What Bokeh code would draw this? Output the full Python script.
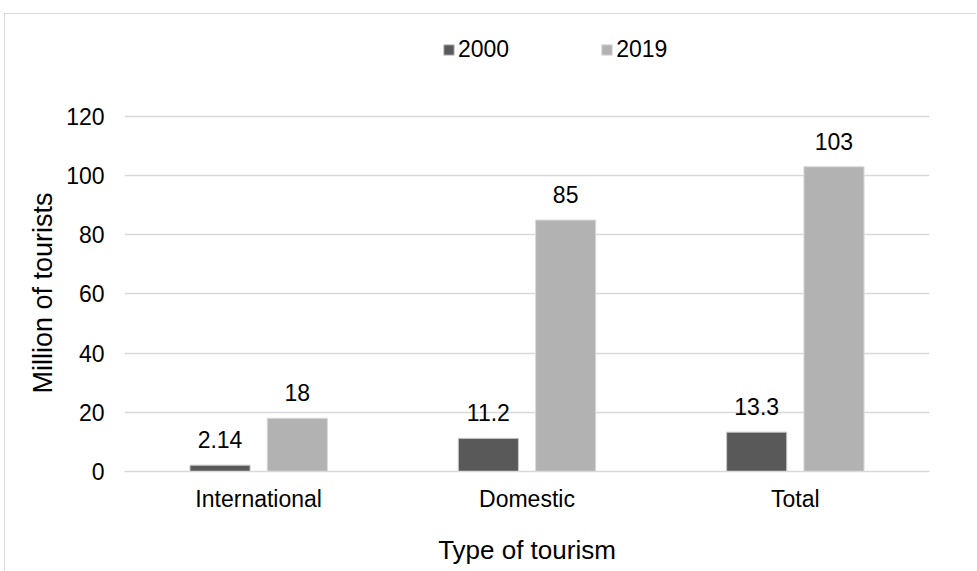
from bokeh.plotting import figure
from bokeh.models import (ColumnDataSource, FactorRange, Range1d, LabelSet, Legend,
                          LegendItem, FixedTicker, Title)
from bokeh.core.properties import value
from bokeh.transform import dodge
from bokeh.embed import file_html
from bokeh.resources import INLINE

categories = ["International", "Domestic", "Total"]
values_2000 = [2.14, 11.2, 13.3]
values_2019 = [18, 85, 103]
labels_2000 = ["2.14", "11.2", "13.3"]
labels_2019 = ["18", "85", "103"]
series_names = ["2000", "2019"]
y_ticks = [0, 20, 40, 60, 80, 100, 120]

FONT = "Liberation Sans"
DARK = "#595959"
LIGHT = "#b2b2b2"
GRID = "#d9d9d9"

# the frame is extended upwards (beyond the 0-120 axis) to leave room for the legend
Y_AXIS_MAX = 120
Y_VIEW_MAX = 152.45

src = ColumnDataSource(dict(cat=categories, v2000=values_2000, v2019=values_2019,
                            l2000=labels_2000, l2019=labels_2019))

p = figure(x_range=FactorRange(*categories, range_padding=0), y_range=Range1d(0, Y_VIEW_MAX),
           width=972, height=557, output_backend="svg", toolbar_location=None,
           min_border_left=119, min_border_right=48, min_border_top=6, min_border_bottom=100,
           margin=(13, 0, 0, 4))
p.styles = {"border-top": "1px solid #d9d9d9", "border-left": "1px solid #d9d9d9"}
p.outline_line_color = None
p.background_fill_color = "white"
p.border_fill_color = "white"

off = 0.144
w = 0.224
r1 = p.vbar(x=dodge("cat", -off, range=p.x_range), top="v2000", width=w, source=src,
            fill_color=DARK, line_color="#c8c8c8", line_width=1)
r2 = p.vbar(x=dodge("cat", off, range=p.x_range), top="v2019", width=w, source=src,
            fill_color=LIGHT, line_color="#d9d9d9", line_width=1)

for col, lab, d in (("v2000", "l2000", -off), ("v2019", "l2019", off)):
    ls = LabelSet(x=dodge("cat", d, range=p.x_range), y=col, text=lab, source=src,
                  y_offset=17, text_align="center", text_baseline="alphabetic",
                  text_font=value(FONT), text_font_size=value("23px"), text_color="#000000")
    p.add_layout(ls)

# axes
p.yaxis.ticker = FixedTicker(ticks=y_ticks)
p.yaxis.bounds = (0, Y_AXIS_MAX)
p.yaxis.axis_line_color = None
p.yaxis.major_tick_line_color = None
p.yaxis.minor_tick_line_color = None
p.yaxis.major_tick_out = 0
p.yaxis.major_tick_in = 0
p.yaxis.major_label_standoff = 20

# y-axis title, centred on the 0-120 part of the axis
ytitle = Title(text="Million of tourists", align="left", offset=78, standoff=12,
               text_font=FONT, text_font_size="27px", text_font_style="normal",
               text_color="#000000")
p.add_layout(ytitle, "left")

p.xaxis.axis_line_color = GRID
p.xaxis.axis_line_width = 1.5
p.xaxis.major_tick_line_color = None
p.xaxis.minor_tick_line_color = None
p.xaxis.major_tick_out = 0
p.xaxis.major_tick_in = 0
p.xaxis.major_label_standoff = 14
p.xaxis.axis_label = "Type of tourism"
p.xaxis.axis_label_standoff = 20

for ax in (p.xaxis, p.yaxis):
    ax.major_label_text_font = FONT
    ax.major_label_text_font_size = "23px"
    ax.major_label_text_color = "#000000"
    ax.axis_label_text_font = FONT
    ax.axis_label_text_font_size = "26px"
    ax.axis_label_text_font_style = "normal"
    ax.axis_label_text_color = "#000000"

p.xgrid.grid_line_color = None
p.ygrid.grid_line_color = GRID
p.ygrid.grid_line_width = 1.5

legend = Legend(items=[LegendItem(label=series_names[0], renderers=[r1]),
                       LegendItem(label=series_names[1], renderers=[r2])],
                orientation="horizontal", location=(318, 408),
                glyph_width=13, glyph_height=13, label_standoff=3, spacing=91,
                padding=0, margin=0, border_line_color=None, background_fill_alpha=0,
                label_text_font=FONT, label_text_font_size="23px", label_text_color="#000000")
p.add_layout(legend, "center")

open("out.html", "w").write(file_html(p, INLINE))
